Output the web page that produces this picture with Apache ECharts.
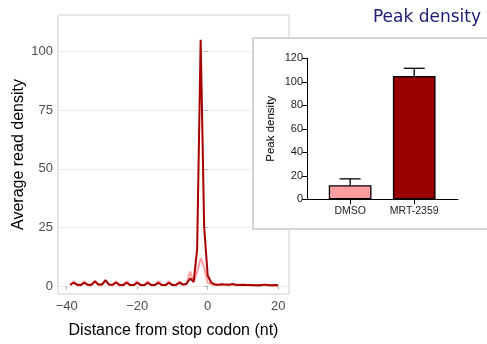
<!DOCTYPE html>
<html><head><meta charset="utf-8">
<script src="https://cdn.jsdelivr.net/npm/echarts@6/dist/echarts.min.js"></script>
<style>html,body{margin:0;padding:0;background:#fff}#c{width:487px;height:344px}</style>
</head><body><div id="c"></div>
<script>
// Main profile: distance from stop codon (nt)
const positions = [-39,-38,-37,-36,-35,-34,-33,-32,-31,-30,-29,-28,-27,-26,-25,-24,-23,-22,-21,-20,
  -19,-18,-17,-16,-15,-14,-13,-12,-11,-10,-9,-8,-7,-6,-5,-4,-3,-2,-1,0,
  1,2,3,4,5,6,7,8,9,10,11,12,13,14,15,16,17,18,19,20];
const dmsoDensity = [0.4,2.0,0.4,0.4,2.0,0.4,0.4,1.8,0.5,0.5,2.2,0.5,0.4,2.0,0.4,0.4,2.0,0.4,0.4,2.0,
  0.4,0.4,2.0,0.4,0.4,2.0,0.4,0.4,2.0,0.4,0.4,2.0,0.5,0.8,6.2,1.5,6.0,12.0,8.0,1.5,
  0.8,0.6,0.5,0.7,0.6,0.5,0.7,0.5,0.4,0.5,0.4,0.4,0.4,0.3,0.3,0.5,0.4,0.3,0.4,0.3];
const mrtDensity = [0.5,1.4,0.5,0.4,1.4,0.5,0.5,2.1,0.6,0.6,2.5,0.6,0.5,1.5,0.4,0.4,1.4,0.4,0.4,1.4,
  0.4,0.4,1.3,0.4,0.4,1.3,0.4,0.4,1.3,0.4,0.5,1.4,0.6,1.0,3.2,1.8,15.5,105,25,4.5,
  1.5,0.6,0.5,0.8,0.6,0.5,0.9,0.5,0.4,0.5,0.4,0.4,0.3,0.3,0.3,0.6,0.4,0.3,0.4,0.3];
const xTicks = [-40,-20,0,20];
const yTicks = [0,25,50,75,100];

// Inset bar chart
const groups = ['DMSO','MRT-2359'];
const peakMeans = [12,105];
const peakUpper = [17.4,111.5];
const barColors = ['#ff9e9e','#990000'];

const chart = echarts.init(document.getElementById('c'));
const font = 'Liberation Sans, Arial, sans-serif';
chart.setOption({
  animation:false,
  grid:[
    {left:58,top:15,width:231,height:282,show:true,borderColor:'#cfcfcf',borderWidth:1,backgroundColor:'#fff'},
    {left:307,top:58.3,width:151,height:141}
  ],
  xAxis:[
    {gridIndex:0,type:'value',min:-42.47,max:23.06,
     axisLine:{show:false},
     axisTick:{show:true,length:3.5,lineStyle:{color:'#b0b0b0'},customValues:xTicks},
     axisLabel:{customValues:xTicks,color:'#4d4d4d',fontSize:13,fontFamily:font,margin:6,
       formatter:v=>String(v).replace('-','\u2212')},
     splitLine:{show:false},
     name:'Distance from stop codon (nt)',nameLocation:'middle',nameGap:29,
     nameTextStyle:{color:'#000',fontSize:16,fontFamily:font}},
    {gridIndex:1,type:'value',min:0.327,max:2.683,z:5,
     axisLine:{show:true,onZero:false,lineStyle:{color:'#000',width:1}},
     axisTick:{show:true,length:5,lineStyle:{color:'#000'},customValues:[1,2]},
     axisLabel:{customValues:[1,2],color:'#222',fontSize:10.5,fontFamily:font,margin:6,
       formatter:v=>groups[Math.round(v)-1]},
     splitLine:{show:false}}
  ],
  yAxis:[
    {gridIndex:0,type:'value',min:-3.4,max:115.6,
     axisLine:{show:false},
     axisTick:{show:true,length:3.5,lineStyle:{color:'#b0b0b0'},customValues:yTicks},
     axisLabel:{customValues:yTicks,color:'#4d4d4d',fontSize:13,fontFamily:font,margin:5},
     splitLine:{show:true,lineStyle:{color:'#ebebeb',width:1}},
     name:'Average read density',nameLocation:'middle',nameGap:31,
     nameTextStyle:{color:'#000',fontSize:16,fontFamily:font}},
    {gridIndex:1,type:'value',min:0,max:120,interval:20,z:5,
     axisLine:{show:true,lineStyle:{color:'#000',width:1}},
     axisTick:{show:true,length:5,lineStyle:{color:'#000'}},
     axisLabel:{color:'#222',fontSize:11,fontFamily:font,margin:4},
     splitLine:{show:false},
     name:'Peak density',nameLocation:'middle',nameGap:30,
     nameTextStyle:{color:'#000',fontSize:11.5,fontFamily:font}}
  ],
  graphic:[
    {type:'rect',z:3,shape:{x:253,y:38,width:250,height:191},
     style:{fill:'#fff',stroke:'#d4d4d4',lineWidth:2}},
    {type:'text',z:4,x:427,y:18,style:{text:'Peak density',fill:'#1c1c75',
     font:'17px "DejaVu Sans", Verdana, sans-serif',textAlign:'center',textVerticalAlign:'middle'}}
  ],
  series:[
    {type:'line',xAxisIndex:0,yAxisIndex:0,symbol:'none',
     data:positions.map((p,i)=>[p,dmsoDensity[i]]),
     lineStyle:{color:'#ff8f8f',width:2.2,opacity:0.8}},
    {type:'line',xAxisIndex:0,yAxisIndex:0,symbol:'none',
     data:positions.map((p,i)=>[p,mrtDensity[i]]),
     lineStyle:{color:'#a80000',width:2}},
    {type:'bar',xAxisIndex:1,yAxisIndex:1,z:6,barWidth:42.7,
     data:peakMeans.map((v,i)=>({value:[i+1,v],itemStyle:{color:barColors[i],borderColor:'#000',borderWidth:1.3}}))},
    {type:'custom',xAxisIndex:1,yAxisIndex:1,z:7,
     data:peakMeans.map((v,i)=>[i+1,v,peakUpper[i]]),
     renderItem:(params,api)=>{
       const x=api.coord([api.value(0),api.value(1)]);
       const top=api.coord([api.value(0),api.value(2)]);
       return {type:'group',children:[
         {type:'line',shape:{x1:x[0],y1:x[1],x2:x[0],y2:top[1]},style:{stroke:'#000',lineWidth:1.3}},
         {type:'line',shape:{x1:x[0]-10.5,y1:top[1],x2:x[0]+10.5,y2:top[1]},style:{stroke:'#000',lineWidth:1.3}}
       ]};
     }}
  ]
});
</script></body></html>
